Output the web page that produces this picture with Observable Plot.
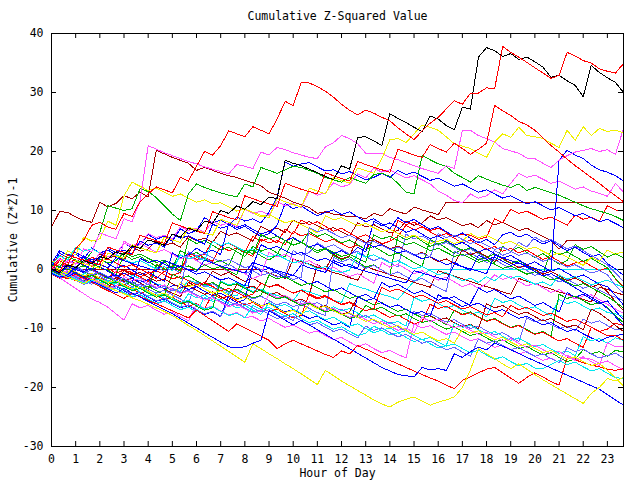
<!DOCTYPE html>
<html><head><meta charset="utf-8">
<script src="https://cdn.jsdelivr.net/npm/d3@7"></script>
<script src="https://cdn.jsdelivr.net/npm/@observablehq/plot@0.6"></script>
<style>html,body{margin:0;padding:0;background:#fff}</style>
</head><body><div id="chart"></div>
<script>
const title = "Cumulative Z-Squared Value";
const xLabel = "Hour of Day";
const yLabel = "Cumulative (Z*Z)-1";
const xTicks = [0,1,2,3,4,5,6,7,8,9,10,11,12,13,14,15,16,17,18,19,20,21,22,23];
const yTicks = [-30,-20,-10,0,10,20,30,40];
const stepHours = 1/3; // one reading every 20 minutes

const s01 = [0,1.5,0.8,3.5,5,7.5,8,7.2,6.8,9.5,9,11.5, 12.8,14,13.5,13,15.6,15,17.5,20,19.4,21,23.5,23, 22.5,24.2,23.6,23,25.5,28.5,27.8,31.7,31.6,31,30.2,29.2, 28,27,26.2,27,26.5,25.8,25.2,24,23,22,23.5,24.8, 25.8,27.2,28.6,28,29.9,29.9,30.8,30.6,37.8,36.8,36,35.1, 34.2,33.3,32.4,32.9,36.8,36.2,35.4,35,34,33.6,33.3,34.9];
const s02 = [0,-0.5,0.8,0.3,1.5,1,2.2,1.8,3,2.5,4,3.6, 5,4.6,4.1,6,5.5,7,6.5,8.2,7.8,10,9.5,10.8, 10.2,11.5,11,12.3,12,18.5,18,17.6,17,16.4,15.8,15.2, 17.6,17,22.4,22.5,21.8,21,26.4,25.6,24.9,24.1,23.4,26, 25.5,24.4,23.7,27.5,27.2,36,37.6,37.1,36.1,36.6,35.6,36, 35.2,34.3,32.6,32.9,32,31.2,29.3,34.6,33.4,32.5,31.7,30];
const s03 = [0,-0.4,2.5,2,1.6,1.2,0.8,3.8,3.3,2.9,2.5,5.8, 5.3,4.9,4.4,7.9,7.4,6.9,6.5,6.1,9.8,9.3,8.8,8.4, 12.5,12,11.5,11.1,10.7,14.6,14.1,13.6,13.2,12.8,16.4,15.9, 15.4,15,18.3,17.8,17.3,16.9,16.5,20.4,19.9,19.4,19,21.2, 20.5,19.9,21.4,20.5,19.5,20.4,21.4,27.8,26.9,26.1,25.1,24.5, 23.6,22.3,21,19.9,18.7,17.6,16.6,15.6,14.6,13.5,12.5,11.5];
const s04 = [0,-0.3,-0.7,1.5,1,0.6,0.2,2.8,2.3,1.9,4.2,3.7, 3.2,2.8,5.5,5,4.6,7.2,6.7,6.2,5.8,8.5,8,7.5, 10.2,9.7,9.2,8.8,12,11.5,11,10.6,13.8,13.3,12.8,15.6, 15.1,14.6,17.2,16.8,16.3,18.8,22,22.2,21.5,23,24.5,24.1, 23.6,22.5,21.3,20.9,20.5,19.7,19,21.6,23,22.4,24.1,22.7, 22.5,22.2,21.4,20.7,23.6,21.9,24.2,22.7,23.9,23.4,23.6,23.2];
const s05 = [0,1.8,1.3,0.9,3.5,3,6.2,5.7,5.2,8.6,8.1,11.7, 21,20.4,19.8,19.3,18.8,18.3,17.9,17.4,17,16.6,16.2,17.8, 17.5,17.1,19.9,19.4,20.7,20.3,19.8,19.4,19,18.8,20.8,21.5, 22.7,22.2,21.3,19.7,19.7,19.7,19,18.6,18.1,17.6,17.1,16.7, 16.3,17.6,17.1,23.6,23.6,22.7,22.2,21.6,20.5,20.1,19.7,18.9, 18.8,18,17.3,18.5,19.3,19.9,20.2,20.5,20,20.3,19.5,23.9];
const s06 = [0,-0.6,0.5,0,-0.5,1.3,0.8,0.3,2,1.5,1,0.6, 0.2,-0.3,1.5,1,0.5,0,-0.4,1.6,1.1,0.6,0.2,-0.2, -0.6,1.2,0.7,0.3,-0.2,-0.6,-1,0.8,0.3,-0.1,-0.5,1.5, 1,0.5,0.1,-0.3,-0.7,-1.1,-1.5,-1.9,-2.3,-0.2,-0.6,-1, -1.4,-1.8,0.9,0.5,0.1,-0.3,-0.7,2.4,2,1.5,1.1,0.6, 0.2,-0.3,-0.2,18.5,20.2,19.4,18.8,17.7,16.9,16.5,15.9,15];
const s07 = [0,-0.6,-1.3,-1.8,-2.4,-1.6,-2.3,-2.9,-3.6,-4.1,-4.8,-5.3, -5.9,-6.5,-7.1,-7.8,-8.6,-9.5,-10.3,-11.2,-12.1,-13,-13.9,-14.8, -15.7,-12.6,-13.4,-14.3,-15.1,-16,-16.8,-17.7,-18.6,-19.5,-17.1,-18, -18.9,-19.7,-20.5,-21.3,-22.1,-22.8,-23.3,-22.5,-22,-21.6,-22.3,-23, -22.5,-22.1,-21.6,-20,-17,-13.4,-14.3,-15.1,-16,-16.8,-16,-16.9, -17.8,-18.7,-19.5,-20.3,-21.1,-21.9,-22.7,-21,-20,-18.5,-18.9,-18.3];
const s08 = [0,-0.7,-1.2,-0.5,-1.3,-2,-2.6,-3.3,-4,-3.2,-4,-4.7, -5.4,-6.1,-6.8,-7.5,-8.3,-9.1,-9.9,-10.7,-11.5,-12.3,-13.1,-13.3, -13.1,-12.5,-12,-7,-7.8,-8.6,-9.4,-8.6,-9.4,-10.2,-11,-11.8, -12.6,-13.4,-14.2,-15,-15.8,-16.6,-17.2,-17.8,-18,-18.2,-16.6,-17, -16.8,-17.1,-14.3,-14.9,-13.9,-13.2,-13.6,-12.5,-13,-13.6,-14.2,-14.9, -15.5,-16.1,-16.7,-17.3,-17.9,-18.5,-19.1,-19.7,-20.3,-21.2,-22.1,-23];
const s09 = [7.2,9.8,9.7,8.9,8.3,8,11.4,10.6,11.2,12.5,12,13.1, 12.3,20.2,19.6,19,18.5,18,16.8,17.3,16.8,16.3,15.9,15.6, 15.1,14.7,14.2,13.1,12.6,12.1,11.4,11,10.5,9.5,9.8,9.4, 9.2,8.9,8.9,8.6,9.5,9.1,10.3,9.8,9.4,10.6,10.1,9.7, 9.3,11.4,11.4,11.4,11.4,11.4,11.4,11.4,11.4,11.4,11.4,11.4, 11.4,11.4,11.4,11.4,11.4,11.4,11.4,11.4,11.4,11.4,11.4,11.4];
const s10 = [0.5,-0.2,0.2,1.4,0.7,1.1,2.6,1.9,2.3,1.6,3.8,3.1, 3.5,4.8,4.1,4.5,3.8,5.6,4.9,5.3,4.6,6.5,5.8,6.2, 5.5,4.8,7.3,6.6,7,6.3,8.4,7.7,8.1,7.4,6.7,7.1, 6.4,5.7,7.9,7.2,7.6,6.9,6.2,6.6,8.2,7.5,7.9,9.1, 8.4,8.8,8.1,7.4,7.8,7.1,8.3,7.6,8,7.3,6.6,7, 6.3,5.6,4.9,3.5,4.9,4.9,4.9,4.9,4.9,4.9,4.9,4.9];
const s11 = [0,0,0,0,0,0,0,0,0,0,0,0, 0,0,0,0,0,0,0,0,0,0,0,0, 0,0,0,-0.6,-1.1,-1.5,1.8,1.3,0.9,0.4,0,-0.5, -0.9,-1.4,-1.8,0.5,0,-0.4,-0.9,-1.3,-1.7,-2.2,-2.6,-3, -0.2,-0.7,-1.1,-1.6,-2,-2.5,-2.9,-3.3,-3.8,-4.2,-1.5,-2, -2.4,-2.9,-3.3,-3.8,-4.2,-4.6,-5.1,-5.5,-3,-3.4,-3.9,-4.3];
const s12 = [-0.5,-1,-1.4,-1.9,-0.6,-1.1,-1.5,-2,-2.4,-2.9,-1,-1.5, -1.9,-2.4,-2.8,-3.3,-3.7,-1.8,-2.3,-2.7,-3.2,-3.6,-4.1,-4.5, -2.6,-3.1,-3.5,-4,-4.4,-4.8,-5.3,-3.4,-3.8,-4.3,-4.7,-5.2, -5.6,-2.4,-2.9,-3.3,-3.8,-4.2,-4.6,-5.1,-3.5,-2,-1,0, 0,0,0,0,0,0,0,0,0,0,0,0, 0,0,0,0,0,0,0,0,0,0,0,0];
const s13 = [0.8,0.4,2.1,1.6,1.2,3,6.3,10.8,10.4,10,10.3,13.7, 13.2,12.2,10.8,9.4,8.3,12.8,14.5,13.9,13.4,13,12.6,12.3, 14.5,14,17.3,16.8,16.3,16.9,17.5,17.3,16.8,16.3,15.6,15.2, 14.8,15.6,15.1,14.6,16.1,16.3,15.8,14.6,13.1,12.8,19.3,18.6, 17.9,17.5,16.3,15.6,14.8,15.9,15.3,14.8,14.3,13.9,14.5,13.4, 13.9,13.5,13,12.6,12,11.4,10.8,10.3,9.9,9.5,9,8.3];
const s14 = [1,0.3,0.7,-0.1,2.3,1.6,2,3.6,2.9,3.3,2.6,4.8, 4.1,4.5,3.8,6,5.3,5.7,5,4.3,7.7,7,7.4,8.9, 8.2,8.6,7.9,9.7,12.3,18.2,17.5,17.9,18.1,17.4,16.7,16.9, 16.2,16.6,15.9,15.2,15.6,16.3,15.6,16.8,16.1,16.5,15.8,15.1, 15.5,14.8,14.1,14.5,13.8,13.1,13.5,12.8,12.1,12.5,11.8,11.1, 11.5,10.8,10.1,10.5,9.8,9.1,9.5,8.8,8.1,8.5,7.8,7.1];
const s15 = [0.3,-0.4,1.6,0.9,1.3,0.6,2.9,2.2,2.6,4.5,3.8,4.2, 6.1,5.4,5.8,5.1,7.3,6.6,7,6.3,8.2,7.5,7.9,7.2, 10.2,9.5,9.9,9.2,11.5,10.8,11.2,10.5,13.3,12.6,13,14.7, 14,14.4,16.2,15.5,17.2,16.5,16.9,16.2,15.5,15.9,15.2,14.5, 13.3,12.6,11.7,11.3,12.8,12.1,12.5,13.5,12.8,14.6,16.3,15.6, 16,15.3,14.6,15,14.3,13.6,14,13.3,12.9,12.4,14.6,13.1];
const s16 = [1.2,0.5,0.9,0.2,-0.5,-0.1,-0.8,-1.5,-0.3,-1,-0.6,-1.3, -2,0.9,0.2,0.6,-0.1,2.4,1.7,2.1,1.4,3.9,3.2,3.6, 2.9,2.2,5.2,4.5,4.9,4.2,6.4,5.7,6.1,5.4,4.7,5.1, 4.4,3.7,4.1,3.4,5.1,4.4,4.8,8.3,7.6,8,7.3,6.6, 7,6.3,5.6,6,5.8,5.1,5.5,8.6,7.9,10.2,9.5,9.9, 9.2,8.5,8.9,8.2,7.5,9.2,8.5,8.9,8.2,10.8,10.1,9.9];
const s17 = [0.2,-0.5,-0.8,1.5,0.6,1.1,0.3,-0.1,-0.9,2.6,1.7,2.2, 1.4,0.5,1.3,0.2,3.2,2.4,2.9,1.9,1,1.6,0.7,3.6, 2.8,3.3,2.3,1.6,2.5,4.9,4.1,4.6,3.7,2.8,3.5,2.4, 1.6,2.2,1.3,0.4,0.8,-0.1,-0.9,5.8,5,5.7,4.8,3.9, 4.5,3.6,2.7,3.4,2.4,1.6,2.1,1.1,3.9,3.1,3.8,2.9, 2,2.7,1.8,0.9,1.5,4.2,3.4,3.9,3,2.1,2.7,2];
const s18 = [0.5,2.8,2,2.6,1.7,3.7,2.8,3.3,2.4,4.5,3.7,4.3, 5.9,5.1,5.7,4.8,6.9,6.1,6.6,8.8,7.9,8.4,7.6,6.8, 7.3,6.4,5.6,6.1,7.5,11.2,10.3,10.8,9.9,9.1,9.7,10.1, 9.3,9.8,8.9,8.1,8.6,7.7,6.9,8.8,7.9,8.5,7.6,6.8, 7.3,6.4,5.6,6.2,5.3,4.5,5.1,4.2,5.9,6.3,5.5,6, 5.1,4.3,4.9,4,3.2,3.8,2.9,2.1,2.6,1,0.1,-1];
const s19 = [-0.4,-0.9,-1.5,0.2,-0.5,-0.1,-0.9,-1.6,-1.1,-1.9,-2.4,-1.8, -2.6,0.4,-0.3,0.2,-0.6,2.3,1.5,2,1.2,0.4,0.9,0.1, -0.7,-0.2,-1,-0.6,-1.3,-0.8,3.2,2.4,2.9,4.5,3.7,4.2, 3.4,2.6,3.1,2.2,1.5,2,1.2,0.4,6,5.2,5.7,4.9, 4.1,4.6,3.8,3,3.5,2.7,1.9,3.2,2.4,2.9,4.6,3.8, 5.5,4.7,5.1,4.3,3.5,4,3.2,2.4,1.6,0.8,-0.6,-2];
const s20 = [0.9,2.4,1.6,2.1,1.3,0.5,1,0.2,-0.6,-0.1,-0.5,-1.2, -0.7,-1.5,-0.3,-1,-0.5,2.9,2.1,2.6,4.8,4,4.5,3.7, 2.9,5.6,4.8,5.3,4.5,6.8,6,8.4,7.6,8.1,7.3,6.5, 7,6.2,5.4,5.9,5.1,4.3,4.8,5.6,7.5,6.7,7.2,6.4, 5.6,6.1,5.3,4.5,5,4.2,3.4,3.9,3.1,3.6,2.8,3.3, 2.5,1.7,2.2,1.4,0.6,1.1,1.4,0.6,-0.2,0.3,-1.6,-3];
const s21 = [-0.3,-1,-0.6,-1.4,-2,-1,-1.7,-1.2,-2,-2.6,-2.1,-2.9, -3.6,0.8,0,0.5,-0.3,5.2,4.4,4.9,4.1,3.3,3.8,3, 2.2,3.9,3.1,3.6,2.8,2.1,5.3,4.5,6.4,5.6,6.1,5.3, 4.5,5,4.2,3.4,3.9,3.1,2.3,2.8,2,1.2,0.5,5.1, 4.3,4.8,4,3.2,3.7,2.9,2.1,2.6,1.8,1,1.5,0.7, -0.1,-0.8,3.3,2.5,3,2.2,1.4,1.9,1.1,0.3,-1.5,-3.2];
const s22 = [-0.2,-0.9,-0.4,-1.2,-1.9,-2.5,-1.2,-1.9,-1.4,-2.2,-2.9,-2.5, -3.3,-4,-3.5,-4.3,-5,-5.7,-2.1,-2.9,-2.4,-3.2,-3.9,-3.5, -4.3,-5,-4.5,-5.3,-6,-5.5,-6.3,-5.8,-6.6,-7.3,-7.8,2.1, 1.3,1.8,1,0.2,0.7,-0.1,-0.9,-0.4,-1.2,-2,-1.5,-2.3, -3.1,-3.7,3.1,2.3,2.8,2,1.2,1.7,0.9,0.1,0.6,-0.2, -1,-0.5,-1.3,-2.1,-1.6,-2.4,-3.2,-2.7,-3.5,-4.2,-4.7,-5.3];
const s23 = [1,3.2,2.4,2.9,2.1,1.3,1.8,1,0.2,0.7,-0.1,-0.9, -0.4,-1.2,-2,2.8,2,2.5,3.6,2.8,3.3,2.5,7.9,7.1, 7.6,6.8,6,6.5,5.7,4.9,5.4,4.6,3.8,4.3,3.5,2.7, 3.2,2.4,3.8,3,8.2,7.4,7.9,7.1,6.3,6.8,6,5.2, 5.7,4.9,4.1,4.6,3.8,3,3.5,2.7,1.9,2.4,1.6,0.8, 1.3,0.5,-0.3,0.2,-0.6,-1.4,-0.9,-1.7,-2.5,-2.9,-4.4,-6];
const s24 = [-0.5,-1.2,-0.7,-1.5,-2.2,-1.7,-2.5,-3.2,-1.3,-2,-1.5,-2.3, -3,-2.5,-3.3,-4,-4.6,-2.2,-2.9,-2.4,-0.3,-1,-0.5,-1.3, -2,-1.5,-2.3,-3,-2.5,-3.3,-4,-3.5,-4.3,0.8,0,2.6, 1.8,2.3,5.4,4.6,5.1,4.3,3.5,4,3.2,2.4,2.9,2.1, 1.3,1.8,1,3.3,2.5,3,2.2,1.4,1.9,1.1,0.3,0.8, 0,-0.8,-0.3,-1.1,-1.9,-1.4,-2.2,-3,-2.5,-3.8,-5.4,-7];
const s25 = [0.1,-0.6,-0.2,-1,-1.7,-1.3,-2.1,-2.8,-0.3,4.8,4,4.5, 3.7,2.9,3.4,2.6,1.8,2.3,1.5,0.7,1.2,0.4,-0.4,0.1, -0.7,-1.5,-1,2.9,2.1,2.6,1.8,1,1.5,0.7,-0.1,0.4, -0.4,-1.2,-0.7,-1.5,-2.3,1.2,0.4,0.9,0.1,-0.7,-0.2,-1, -1.8,-1.3,-2.1,-2.9,-2.4,-3.2,-2.4,-0.9,-1.7,-1.2,-2,-2.8, -2.3,-3.1,-3.9,-3.4,-4.2,-5,-4.5,-4.3,-5.1,-5.9,-6.7,-7.4];
const s26 = [-0.6,-1.3,-0.9,-1.7,-0.9,-1.6,-2.3,-1.9,-2.7,-3.4,-3,-3.8, -4.5,-4.1,-4.9,-5.6,-6.3,-4.1,-4.8,-4.3,-5.1,-1.9,-2.6,-2.2, -3,-3.7,-3.3,-4.1,-4.8,-4.4,-5.2,-5.9,-5.5,-6.3,-7,-6.3, -7,-6.6,-7.4,-8.1,-7.7,-8.5,-9.2,-8.8,-9.6,-4.7,-5.4,-5, -5.8,-6.5,-6.1,-6.9,-7.6,-7.2,-8,-4.9,-5.6,-5.2,-6,-6.7, -6.3,-7.1,-7.8,-5.1,-5.8,-5.4,-6.2,-6.9,-6.5,-7.3,-7.5,-8];
const s27 = [0.3,1.9,1.1,1.6,0.8,0,0.5,-0.3,-1.1,-0.6,-1.4,-2.2, -1.7,-2.5,-3.3,-2.8,-2.6,-3.4,-2.9,-3.7,-4.5,-4,-4.8,-5.6, -5.1,0.5,-0.3,0.2,-0.6,-1.4,-0.9,-1.7,-2.5,-2,-2.8,-3.6, -3.1,-3.9,-4.7,-4.2,-5,-2.2,-3,-2.5,-3.3,-4.1,-3.6,-4.4, -5.2,-4.7,-5.5,-6.3,-5.8,-3.1,-3.9,-3.4,-4.2,-5,-4.5,-5.3, -6.1,-5.6,-6.4,-7.2,-3.9,-4.7,-4.2,-5,-5.8,-5.3,-7,-8.5];
const s28 = [-0.5,-1.2,-0.8,0.4,-0.3,-1,-0.6,-1.4,-2.1,-1.7,-2.5,-3.2, -2.8,-3.6,-4.3,-0.8,-1.5,-1.1,-1.9,-2.6,-2.2,-3,-3.7,-3.3, -4.1,-4.8,-4.4,-0.9,-1.6,-1.2,-2,-2.7,-2.3,-3.1,-3.8,-3.4, -4.2,-4.9,-4.5,-5.3,-6,-5.6,-6.4,-7.1,-6.7,-7.5,-8.2,-7.8, -8.6,-9.3,-6.9,-7.6,-7.2,-8,-8.7,-8.3,-9.1,-9.8,-9.4,-10.2, -10.9,-10.5,-11.3,-4.2,-4.9,-4.5,-5.3,-6,-5.6,-6.4,-7.8,-9];
const s29 = [-0.8,-1.5,-1.1,-1.9,-1.1,-1.8,-1.4,-2.2,-2.9,-2.5,-3.3,-4, -3.6,-4.4,-5.1,-4.7,-5.5,-6.2,-5.8,-6.6,-4.2,-4.9,-4.5,-5.3, -6,-5.6,-6.4,-7.1,-6.7,-7.5,-8.2,-7.8,-4.1,-4.8,-4.4,-5.2, -5.9,-5.5,-6.3,-7,-6.6,-7.4,-8.1,-7.7,-8.5,-9.2,-8.8,-5.9, -6.6,-6.2,-7,-7.7,-7.3,-8.1,-8.8,-8.4,-9.2,-9.9,-9.5,-10.3, -11,-10.6,-11.4,-12.1,-11.7,-12.5,-13.2,-9.8,-10.5,-10.1,-9.1,-9.5];
const s30 = [-0.7,-1.4,-1,-1.8,-2.5,-2.1,-2.9,-3.6,-3.2,-4,-4.7,-4.3, -5.1,-5.8,-5.4,-3.2,-3.9,-3.5,-4.3,-5,-4.6,-5.4,-6.1,-5.7, -6.5,-7.2,-6.8,-7.6,-8.3,-7.9,-8.7,-5.3,-6,-5.6,-6.4,-7.1, -6.7,-7.5,-8.2,-7.8,-8.6,-9.3,-8.9,-9.7,-10.4,-7.1,-7.8,-7.4, -8.2,-8.9,-8.5,-9.3,-10,-9.6,-10.4,-11.1,-10.7,-11.5,-12.2,-8.2, -8.9,-8.5,-9.3,-10,-9.6,-10.4,-8.4,-9.1,-8.7,-9.5,-10.2,-10];
const s31 = [0.6,-0.1,0.3,-0.5,-1.2,-0.8,-1.6,-2.3,-1.9,-0.2,-0.9,-0.5, -1.3,-2,-1.6,-2.4,-3.1,-2.7,-3.5,-4.2,-3.8,-4.6,-5.3,-2.5, -3.2,-2.8,-3.6,-4.3,-3.9,-4.7,-5.4,-5,-5.8,-6.5,-6.1,-6.9, -7.6,-7.2,-4.6,-5.3,-4.9,-5.7,-6.4,-6,-6.8,-7.5,-7.1,-7.9, -8.6,-8.2,-9,-9.7,-9.3,-10.1,-5.8,-6.5,-6.1,-6.9,-7.6,-7.2, -8,-8.7,-8.3,-9.1,-9.8,-9.4,-10.2,-6.7,-7.4,-8.4,-9.5,-10.5];
const s32 = [-0.3,-1,-0.6,-1.4,-2.1,-1.7,-2.5,-3.2,-2.8,-3.6,-4.3,-3.9, -4.7,-5.4,-5,-5.8,-6.5,-6.1,-6.9,-7.6,-7.2,-8,-4.3,-5, -4.6,-5.4,-6.1,-5.7,-6.5,-7.2,-6.8,-7.6,-8.3,-7.9,-8.7,-9.4, -9,-9.8,-4.6,-5.3,-4.9,-5.7,-6.4,-6,-6.8,-7.5,-7.1,-7.9, -4.3,-5,-4.6,-5.4,-6.1,-5.7,-6.5,-7.2,-6.8,-7.6,-8.3,-7.9, -8.7,-9.4,-9,-9.8,-10.5,-10.1,-10.9,-11.6,-12.2,-11.5,-11.2,-11];
const s33 = [-0.6,-1.3,-0.9,-1.7,-2.4,-2,-2.8,-3.5,-3.1,-3.9,-4.6,-4.2, -5,-5.7,-5.3,-6.1,-6.8,-6.4,-7.2,-4.7,-5.4,-5,-5.8,-6.5, -6.1,-6.9,-7.6,-5.6,-6.3,-5.9,-6.7,-7.4,-7,-7.8,-8.5,-8.1, -8.9,-9.6,-9.2,-10,-10.7,-10.3,-11.1,-10.7,-11.5,-12.2,-11.8,-12.6, -13.3,-12.9,-9.1,-9.8,-9.4,-10.2,-10.9,-10.5,-11.3,-12,-11.6,-12.4, -13.1,-12.7,-13.5,-14.2,-13.8,-14.6,-11.4,-12.1,-11.7,-12.5,-11.6,-12];
const s34 = [-0.5,-1.4,-2.3,-3.2,-4.1,-5,-5.6,-6.4,-7.5,-8.6,-5.8,-6.5, -6.1,-6.9,-7.6,-7.2,-8,-8.7,-5.9,-6.6,-6.2,-7,-7.7,-7.3, -8.1,-8,-8.7,-8.3,-9.1,-9.8,-9.4,-10.1,-10.8,-10.4,-11.2,-11.9, -11.5,-12.3,-13,-12.6,-13.4,-14.1,-13.7,-14.4,-15,-9.2,-9.9,-9.5, -10.3,-11,-10.6,-11.4,-12.1,-11.7,-12.5,-13.2,-12.8,-13.6,-14.3,-13.9, -14.7,-15.4,-15,-15.8,-14.5,-15.2,-14.8,-15.6,-16.3,-12.4,-13.1,-13];
const s35 = [0.4,-0.3,0.1,-0.7,-1.4,-1,-1.8,-2.5,-2.1,-2.9,-3.6,-3.2, -4,-4.7,-4.3,-5.1,-5.8,-5.4,-6.2,-6.9,-6.5,-2.1,-2.8,-2.4, -3.2,-3.9,-3.5,-4.3,-5,-4.6,-5.4,-6.1,-5.7,-6.5,-7.2,-6.8, -7.6,-8.3,-7.9,-6.1,-6.8,-6.4,-7.2,-7.9,-7.5,-8.3,-9,-8.6, -9.4,-10.1,-9.7,-10.5,-11.2,-10.8,-11.6,-12.3,-11.9,-12.7,-13.4,-13, -13.8,-14.5,-14.1,-14.9,-15.6,-15.2,-13.6,-14.3,-13.9,-14.7,-13.7,-14];
const s36 = [-0.2,-0.9,-0.5,-1.3,-2,-1.6,-2.4,-3.1,-2.7,-3.5,-4.2,-3.8, -4.6,-5.3,-4.9,-5.7,-6.4,-6,-6.8,-7.5,-7.1,-7.9,-5.4,-6.1, -5.7,-6.5,-7.2,-6.8,-7.6,-8.3,-7.9,-8.7,-9.4,-9,-9.8,-10.5, -10.1,-10.9,-11.6,-9.6,-10.3,-9.9,-10.7,-11.4,-11,-11.8,-12.5,-12.1, -12.9,-13.6,-13.2,-14,-14.7,-11.8,-12.5,-12.1,-12.9,-13.6,-13.2,-14, -14.7,-14.3,-15.1,-15.8,-13.2,-13.9,-13.5,-14.3,-15,-14.6,-14.2,-15];
const s37 = [-0.3,-1,-1.6,-0.8,-1.5,-2.2,-2.9,-3.6,-4.2,-4.9,-4,-4.6, -5.2,-5.8,-6.4,-7,-7.6,-8.2,-6.9,-7.8,-8.7,-9.6,-10.5,-9.2, -9.9,-10.6,-11.3,-12,-13.4,-12.6,-12,-12.6,-13.2,-13.8,-14.4,-14.9, -13.8,-14.3,-12.9,-13.5,-14.1,-14.8,-15.4,-16,-16.6,-17.2,-17.8,-18.4, -18.9,-19.6,-20.2,-18.8,-18.2,-17.5,-16.9,-16.6,-17.5,-18.4,-19.3,-18.3, -17.5,-18.2,-19,-19.6,-14.9,-15.3,-15.8,-16.2,-16.5,-16.9,-17.1,-16.8];
const s38 = [-0.4,-1.1,-0.7,-1.5,-2.2,-1.8,-2.6,-3.3,-2.9,-1.2,-1.9,-1.5, -2.3,-3,-2.6,-3.4,-4.1,-3.7,-4.5,-5.2,-4.8,-5.6,-6.3,-5.9, -6.7,-7.4,-7,-4.1,-4.8,-4.4,-5.2,-5.9,-5.5,-6.3,-7,-6.6, -7.4,-8.1,-7.7,-8.5,-9.2,-8.8,-9.6,-10.3,-9.9,-10.7,-8.1,-8.8, -8.4,-9.2,-9.9,-9.5,-10.3,-11,-10.6,-11.4,-12.1,-11.7,-12.5,-13.2, -12.8,-13.6,-14.3,-13.9,-14.7,-15.4,-15,-15.2,-15.9,-15.5,-16.3,-17];
const s39 = [-0.5,-1.2,-0.8,-1.6,-2.3,-1.9,-1.6,-2.3,-1.9,-2.7,-3.4,-3, -3.8,-4.5,-4.1,-4.9,-5.6,-5.2,-6,-6.7,-6.3,-7.1,-7.8,-7.4, -8.2,-6.1,-6.8,-6.4,-7.2,-7.9,-7.5,-8.3,-9,-8.6,-9.4,-10.1, -9.7,-10.5,-11.2,-10.8,-9.6,-10.3,-9.9,-10.7,-10.4,-11.2,-11.9,-11.5, -12.3,-13,-12.6,-13.4,-14.1,-13.7,-14.5,-15.2,-14.8,-15.6,-16.3,-15.9, -16.7,-16.8,-16.1,-15.4,-16.1,-15.7,-16.5,-17.2,-16.8,-17.6,-18.3,-18.5];
const s40 = [0.7,0,0.4,-0.4,-1.1,-0.7,-1.5,-2.2,-1.8,-2.6,-3.3,-2.9, -3.7,-4.4,-4,-4.8,-2.2,-2.9,-2.5,-3.3,-4,-3.6,-4.4,-5.1, -4.7,-5.5,-6.2,-5.8,-6.6,-7.3,-6.9,-7.7,-5.9,-6.6,-6.2,-7, -7.7,-7.3,-8.1,-8.8,-8.4,-9.2,-9.9,-9.5,-10.3,-11,-10.6,-11.4, -12.1,-11.7,-12.5,-10.1,-10.8,-10.4,-11.2,-11.9,-11.5,-12.3,-13,-12.6, -13.4,-14.1,-13.7,-14.5,-15.2,-14.8,-15.6,-16.3,-15.9,-17.1,-18.3,-19.8];
const s41 = [1.5,0.8,3.2,2.5,5.5,4.8,5.2,8.2,7.5,12.5,14.8,14.1, 13.4,13.8,13.1,12.4,12.8,12.1,11.4,11.8,11.1,11.3,10.6,9.9, 10.3,9.6,8.9,9.3,8.6,7.9,8.3,7.6,6.9,6.2,9.1,8.4, 8.8,8.1,7.4,7.8,7.1,6.4,6.8,6.1,5.4,5.8,5.1,4.4, 4.8,5.1,4.4,4.8,6.1,5.4,5.8,5.1,4.4,4.8,4.1,3.4, 3.8,3.1,2.4,2.8,2.1,1.4,0.7,2.1,1.4,3.3,2.6,3];
const s42 = [0.8,2.3,1.6,3.8,3.1,3.5,2.8,2.1,2.5,1.8,1.1,1.5, 0.8,0.1,0.5,-0.2,2.5,1.8,2.2,1.5,4.8,4.1,4.5,3.8, 3.1,3.5,2.8,2.1,2.5,1.8,1.1,1.5,0.8,0.1,0.5,-0.2, -0.5,-0.1,2.8,2.1,2.5,1.8,1.1,1.5,0.8,0.1,0.5,-0.2, -0.9,-0.5,-1.2,-1.9,-1.5,-2.2,-1.2,-1.9,-0.8,-1.5,-1.1,-1.8, -2.5,-2.1,-2.8,-0.9,-1.6,-1.2,-1.9,-2.6,-2.2,-1.8,-2.5,-3];
const s43 = [-0.2,-0.9,0.9,0.2,0.6,-0.1,1.8,1.1,1.5,2.9,2.2,2.6, 1.9,1.2,1.6,0.9,0.2,0.6,-0.1,0.8,0.1,0.5,-0.2,-0.9, 3.3,2.6,5.9,5.2,5.6,4.9,4.2,4.6,3.9,3.2,3.6,2.9, 2.2,2.6,1.9,1.2,5.9,5.2,5.6,4.9,4.2,4.6,3.9,3.2, 3.6,2.9,2.2,2.6,1.9,1.2,1.6,0.9,0.2,0.6,-0.1,-0.8, -0.4,-1.1,-1.8,-1.4,-2.1,-2.8,-2.4,-3.1,-3.8,-4.6,-5.5,-6.5];
const s44 = [-0.6,-1.3,-0.9,0.4,-0.3,0.1,-0.6,-1.3,-0.9,-1.6,-2.3,1.9, 1.2,1.6,0.9,0.2,0.6,-0.1,-0.8,-0.4,-1.1,-1.8,-1.4,-2.1, -2.8,0.7,4.2,3.5,3.9,3.2,2.5,2.9,2.2,1.5,1.9,1.2, 0.5,0.9,0.2,4.5,3.8,4.2,3.5,2.8,3.2,2.5,1.8,2.2, 1.5,0.8,1.2,0.5,-0.2,2.4,1.7,2.1,1.4,0.7,1.1,0.4, -0.3,-1.1,-0.7,-1.5,-2.3,-3.1,-3.9,-4.7,-5.5,-6.6,-8,-9.5];
const s45 = [0.4,1.9,1.2,1.6,0.9,2.1,1.4,1.8,1.1,0.4,0.8,0.1, -0.6,-0.2,-0.9,-1.6,-1.2,-1.9,-2.6,-2.2,-2.9,-3.6,-3.2,-3.9, -4.6,-4.2,-2.3,-3,-2.6,-3.3,-4,-3.6,-4.3,-5,-4.6,-5.3, -6,-5.6,-6.3,-7,-6.6,-3,-3.7,-3.3,-4,-4.7,-4.3,-5, -5.7,-5.3,-6,-6.7,-6.3,-7,-7.7,-7.3,-8,-6.1,-6.8,-6.4, -7.1,-7.8,-7.4,-8.1,-8.8,-8.4,-9.1,-9.8,-10.5,-11.2,-11.2,-12];
const s46 = [-0.1,0.8,0.1,0.5,-0.2,-0.9,-0.5,-1.2,-1.9,-1.5,-2.2,-2.9, -2.5,-3.2,-2.9,-3.6,-3.2,3,2.3,2.7,2,1.3,1.7,1, 0.3,0.7,0,-0.7,-0.3,-1,-1.7,-1.3,7.1,6.4,6.8,6.1, 5.4,5.8,5.1,4.4,4.8,4.1,3.4,3.8,3.1,2.4,2.8,2.1, 6.1,5.4,5.8,5.1,4.4,4.8,4.1,3.4,3.8,3.1,2.4,2.8, 2.1,1.4,1.8,1.1,0.4,0.8,0.1,-0.6,-0.2,-0.9,-2.7,-4];

const RED = "#ff0000", GREEN = "#00b000", BLUE = "#0000ff", MAGENTA = "#ff50ff",
      CYAN = "#00e8f0", DARKRED = "#a80000", BLACK = "#000000", YELLOW = "#f0f000", SLATE = "#6464ff";

const seriesList = [s12,s11,s10,s09,s16,s17,s18,s19,s20,s21,s22,s23,s24,s25,s26,s27,s28,s29,s30,s31,s32,s33,s34,s35,s36,s37,s38,s39,s40,s41,s42,s43,s44,s45,s46,s15,s14,s13,s08,s07,s06,s05,s04,s03,s02,s01];
const seriesColors = [CYAN,DARKRED,DARKRED,DARKRED,RED,GREEN,BLUE,SLATE,RED,GREEN,SLATE,BLUE,DARKRED,MAGENTA,CYAN,BLUE,GREEN,RED,SLATE,DARKRED,BLUE,CYAN,MAGENTA,GREEN,SLATE,RED,MAGENTA,CYAN,YELLOW,YELLOW,CYAN,GREEN,BLUE,RED,SLATE,MAGENTA,BLUE,GREEN,BLUE,YELLOW,BLUE,MAGENTA,YELLOW,RED,BLACK,RED];

const lineMarks = seriesList.map((vals, k) => Plot.line(vals, {
  x: (d, i) => i * stepHours, y: d => d,
  stroke: seriesColors[k], strokeWidth: 1, shapeRendering: "crispEdges"
}));

const FW = 572, FH = 413, TICK = 5;
const chart = Plot.plot({
  width: 640, height: 480,
  marginLeft: 51, marginRight: 17, marginTop: 33, marginBottom: 34,
  x: {domain: [0, 71 * stepHours]},
  y: {domain: [-30, 40]},
  style: {fontFamily: "'DejaVu Sans Mono', monospace", fontSize: "11.5px", background: "#fff", color: "#000"},
  marks: [
    ...lineMarks,
    Plot.frame({stroke: "#000", strokeWidth: 1}),
    Plot.tickX(xTicks, {x: d => d, insetTop: FH - TICK, stroke: "#000"}),
    Plot.tickX(xTicks, {x: d => d, insetBottom: FH - TICK, stroke: "#000"}),
    Plot.tickY(yTicks, {y: d => d, insetRight: FW - TICK, stroke: "#000"}),
    Plot.tickY(yTicks, {y: d => d, insetLeft: FW - TICK, stroke: "#000"}),
    Plot.axisX(xTicks, {tickSize: 0, tickPadding: 8, tickFormat: d => String(d), label: null}),
    Plot.axisY(yTicks, {tickSize: 0, tickPadding: 8, tickFormat: d => String(d), label: null}),
    Plot.text([title], {text: d => d, frameAnchor: "top", lineAnchor: "middle", dy: -17, fill: "#000"}),
    Plot.text([xLabel], {text: d => d, frameAnchor: "bottom", lineAnchor: "middle", dy: 27, fill: "#000"}),
    Plot.text([yLabel], {text: d => d, frameAnchor: "left", textAnchor: "middle", lineAnchor: "middle", dx: -38, rotate: -90, fill: "#000"})
  ]
});
document.getElementById("chart").appendChild(chart);
</script></body></html>
